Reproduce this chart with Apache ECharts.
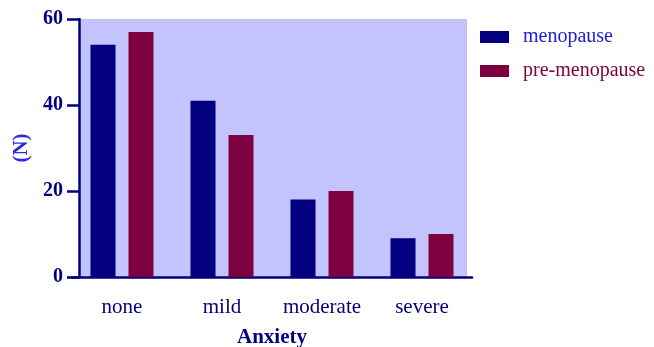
<!DOCTYPE html>
<html><head><meta charset="utf-8">
<script src="https://cdn.jsdelivr.net/npm/echarts@6/dist/echarts.min.js"></script>
<style>html,body{margin:0;padding:0;background:#fff}#c{width:654px;height:347px}</style>
</head><body><div id="c"></div>
<script>
const categories = ['none', 'mild', 'moderate', 'severe'];
const menopause = [54, 41, 18, 9];
const preMenopause = [57, 33, 20, 10];
const yTicks = [0, 20, 40, 60];

const NAVY = '#02007e', MAROON = '#7e003f', BG = '#c3c3fd';
const FONT = '"Liberation Serif", "Times New Roman", serif';
const G = {left: 72, top: 19, width: 400, height: 258, containLabel: false, outerBoundsMode: 'none'};

const chart = echarts.init(document.getElementById('c'));
chart.setOption({
  animation: false,
  textStyle: {fontFamily: FONT},
  graphic: [{
    type: 'rect', z: -10,
    shape: {x: G.left + 7, y: G.top, width: G.width - 12, height: G.height},
    style: {fill: BG}
  }],
  grid: G,
  legend: {
    orient: 'vertical', left: 475, top: 22, itemWidth: 29, itemHeight: 12, itemGap: 14,
    icon: 'rect',
    textStyle: {fontFamily: FONT, fontSize: 20, padding: [0, 0, 0, 9]},
    data: [
      {name: 'menopause', textStyle: {color: '#1d1dd0'}},
      {name: 'pre-menopause', textStyle: {color: MAROON}}
    ]
  },
  xAxis: {
    type: 'category', data: categories,
    name: 'Anxiety', nameLocation: 'middle', nameGap: 50,
    nameTextStyle: {fontFamily: FONT, fontSize: 21, fontWeight: 'bold', color: NAVY},
    axisLine: {lineStyle: {color: NAVY, width: 2.5}},
    axisTick: {alignWithLabel: true, length: 11, lineStyle: {color: NAVY, width: 2.5}},
    axisLabel: {fontFamily: FONT, fontSize: 21, color: NAVY, margin: 20, interval: 0, hideOverlap: false}
  },
  yAxis: {
    type: 'value', min: 0, max: 60, interval: 20, offset: -7,
    name: '(N)', nameLocation: 'middle', nameGap: 46,
    nameTextStyle: {fontFamily: FONT, fontSize: 21, fontWeight: 'bold', color: '#2a2ae6'},
    axisLine: {show: true, lineStyle: {color: NAVY, width: 2.5}},
    axisTick: {show: true, length: 12, lineStyle: {color: NAVY, width: 2.5}},
    axisLabel: {fontFamily: FONT, fontSize: 20, fontWeight: 'bold', color: NAVY, margin: 16,
      padding: [4, 0, 0, 0],
      formatter: v => yTicks.includes(v) ? String(v) : ''},
    splitLine: {show: false}
  },
  series: [
    {name: 'menopause', type: 'bar', data: menopause, barWidth: 25, barGap: '52%',
      itemStyle: {color: NAVY}},
    {name: 'pre-menopause', type: 'bar', data: preMenopause, barWidth: 25,
      itemStyle: {color: MAROON}}
  ]
});
</script></body></html>
